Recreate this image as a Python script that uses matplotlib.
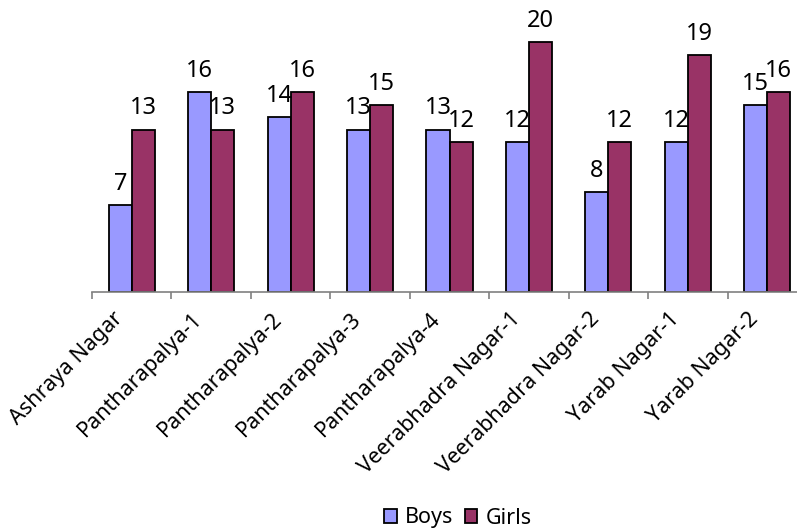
import matplotlib
matplotlib.use("Agg")
import matplotlib.pyplot as plt
from matplotlib.transforms import ScaledTranslation
import numpy as np

categories = ["Ashraya Nagar", "Pantharapalya-1", "Pantharapalya-2", "Pantharapalya-3",
              "Pantharapalya-4", "Veerabhadra Nagar-1", "Veerabhadra Nagar-2",
              "Yarab Nagar-1", "Yarab Nagar-2"]
boys = [7, 16, 14, 13, 13, 12, 8, 12, 15]
girls = [13, 13, 16, 15, 12, 20, 12, 19, 16]

plt.rcParams['font.family'] = ['Noto Sans', 'DejaVu Sans']

fig = plt.figure(figsize=(7.97, 5.32), dpi=100)
ax = fig.add_axes([92/797, 240/532, 715/797, 275/532])

n = len(categories)
centers = np.arange(n) + 0.5
w = 0.29
b1 = ax.bar(centers - w, boys, width=w, align='edge', color='#9999FF',
            edgecolor='black', linewidth=1.3)
b2 = ax.bar(centers, girls, width=w, align='edge', color='#993366',
            edgecolor='black', linewidth=1.3)

for bars, vals in ((b1, boys), (b2, girls)):
    for r, v in zip(bars, vals):
        ax.annotate(str(v), (r.get_x() + r.get_width()/2, v), xytext=(0, 10.8),
                    textcoords='offset points', ha='center', va='baseline',
                    fontsize=17, color='black', annotation_clip=False)

ax.set_xlim(0, n)
ax.set_ylim(0, 22)
ax.set_yticks([])
for s in ('left', 'right', 'top'):
    ax.spines[s].set_visible(False)
ax.spines['bottom'].set_color('#808080')
ax.spines['bottom'].set_linewidth(1.2)

ax.set_xticks(centers)
ax.set_xticklabels(categories, rotation=45, ha='right', va='center',
                   rotation_mode='anchor', fontsize=15.5)
ax.tick_params(axis='x', which='major', length=0, pad=17)
shift = ScaledTranslation(-12/100, 0, fig.dpi_scale_trans)
for lab in ax.get_xticklabels():
    lab.set_transform(lab.get_transform() + shift)
ax.set_xticks(np.arange(n + 1), minor=True)
ax.tick_params(axis='x', which='minor', length=5, color='#808080', width=1.2)

fig.legend([b1, b2], ["Boys", "Girls"], loc='center', bbox_to_anchor=(458/797, 1 - 518/532),
           ncol=2, frameon=False, fontsize=15.5, handlelength=0.6, handleheight=0.6,
           handletextpad=0.4, columnspacing=0.5)

fig.savefig("out.png", dpi=100)
